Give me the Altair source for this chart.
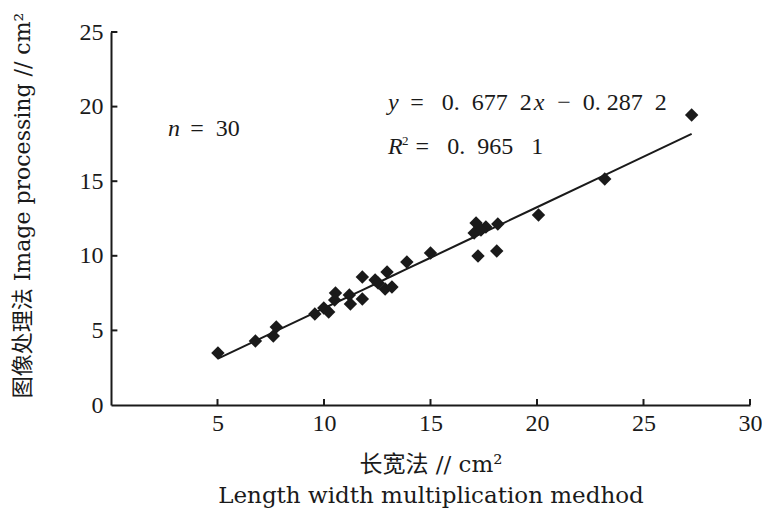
import altair as alt
import pandas as pd

# measured data (length-width method vs image processing), cm^2
length_width = [5.02, 6.78, 7.62, 7.76, 9.57, 9.99, 10.22, 10.54, 10.50, 11.19,
                11.24, 11.80, 11.80, 12.40, 12.54, 12.96, 12.87, 13.19, 13.89, 15.00,
                17.14, 17.60, 17.05, 17.37, 18.16, 17.23, 18.11, 20.07, 23.18, 27.26]
image_proc = [3.49, 4.29, 4.62, 5.23, 6.10, 6.50, 6.23, 7.51, 7.04, 7.37,
              6.77, 7.10, 8.58, 8.38, 8.18, 8.91, 7.77, 7.91, 9.58, 10.19,
              12.20, 11.93, 11.53, 11.73, 12.13, 9.99, 10.32, 12.73, 15.15, 19.44]

slope = 0.6772
intercept = -0.2872

x_ticks = [5, 10, 15, 20, 25, 30]
y_ticks = [0, 5, 10, 15, 20, 25]

NB = "\u00a0"
SERIF = "'Liberation Serif', 'Noto Sans CJK SC', serif"
TSERIF = "'DejaVu Serif', 'Noto Sans CJK SC', serif"

df = pd.DataFrame({"x": length_width, "y": image_proc})

x_scale = alt.Scale(domain=[0, 30], nice=False, zero=True)
y_scale = alt.Scale(domain=[0, 25], nice=False, zero=True)

W, H = 639, 373

x_axis = alt.Axis(
    values=x_ticks, ticks=False, grid=False, domainColor="#1a1a1a", domainWidth=2,
    labelFont=SERIF, labelFontSize=24, labelColor="#1a1a1a", labelPadding=6,
    labelFlush=False,
    title=["长宽法 // cm²", "Length width multiplication medhod"],
    titleFont=TSERIF, titleFontSize=23, titleFontWeight="normal", titleColor="#1a1a1a",
    titleLineHeight=31, titlePadding=18,
)
y_axis = alt.Axis(
    values=y_ticks, ticks=False, grid=False, domainColor="#1a1a1a", domainWidth=2,
    labelFont=SERIF, labelFontSize=24, labelColor="#1a1a1a", labelPadding=8,
    labelFlush=False,
    title="图像处理法 Image processing // cm²",
    titleFont=TSERIF, titleFontSize=22, titleFontWeight="normal", titleColor="#1a1a1a",
    titleX=-89, titleY=173, titleAngle=-90, titleBaseline="middle", titleAlign="center",
)

base = alt.Chart(df)

points = base.mark_point(shape="diamond", filled=True, size=180, color="#1a1a1a", opacity=1).encode(
    x=alt.X("x:Q", scale=x_scale, axis=x_axis),
    y=alt.Y("y:Q", scale=y_scale, axis=y_axis),
)

fit = base.transform_calculate(
    fit=f"{slope} * datum.x + ({intercept})"
).mark_line(color="#1a1a1a", strokeWidth=2).encode(
    x=alt.X("x:Q", scale=x_scale),
    y=alt.Y("fit:Q", scale=y_scale),
    order="x:Q",
)

# inward tick marks
xt = pd.DataFrame({"v": x_ticks})
yt = pd.DataFrame({"v": y_ticks[1:]})
x_tick_marks = alt.Chart(xt).transform_calculate(y0="0", y1="0.4").mark_rule(
    color="#1a1a1a", strokeWidth=2
).encode(
    x=alt.X("v:Q", scale=x_scale),
    y=alt.Y("y0:Q", scale=y_scale),
    y2="y1:Q",
)
y_tick_marks = alt.Chart(yt).transform_calculate(x0="0", x1="0.3").mark_rule(
    color="#1a1a1a", strokeWidth=2
).encode(
    y=alt.Y("v:Q", scale=y_scale),
    x=alt.X("x0:Q", scale=x_scale),
    x2="x1:Q",
)

# annotations (positions in data units)
ann_italic = pd.DataFrame({
    "t": ["n", "y", "x", "R"],
    "x": [2.68, 13.0, 19.85, 13.0],
    "y": [18.0, 19.75, 19.75, 16.85],
})
ann_normal = pd.DataFrame({
    "t": [f"={NB}{NB}30",
          f"={NB}{NB}{NB}0.{NB}{NB}677{NB}{NB}2",
          f"−{NB}{NB}0.{NB}287{NB}{NB}2",
          f"={NB}{NB}{NB}0.{NB}{NB}965{NB}{NB}{NB}1"],
    "x": [3.72, 14.05, 20.95, 14.3],
    "y": [18.0, 19.75, 19.75, 16.85],
})
ann_sup = pd.DataFrame({"t": ["2"], "x": [13.66], "y": [17.45]})

t_italic = alt.Chart(ann_italic).mark_text(
    font="'Liberation Serif', serif", fontSize=24, fontStyle="italic", align="left",
    baseline="alphabetic", color="#1a1a1a"
).encode(x=alt.X("x:Q", scale=x_scale), y=alt.Y("y:Q", scale=y_scale), text="t:N")
t_normal = alt.Chart(ann_normal).mark_text(
    font="'Liberation Serif', serif", fontSize=24, align="left",
    baseline="alphabetic", color="#1a1a1a"
).encode(x=alt.X("x:Q", scale=x_scale), y=alt.Y("y:Q", scale=y_scale), text="t:N")
t_sup = alt.Chart(ann_sup).mark_text(
    font="'Liberation Serif', serif", fontSize=13, align="left",
    baseline="alphabetic", color="#1a1a1a"
).encode(x=alt.X("x:Q", scale=x_scale), y=alt.Y("y:Q", scale=y_scale), text="t:N")

chart = alt.layer(
    fit, points, x_tick_marks, y_tick_marks, t_italic, t_normal, t_sup
).properties(
    width=W, height=H,
    autosize=alt.AutoSizeParams(type="none"),
    padding={"left": 103, "top": 24, "right": 12, "bottom": 104},
    background="white",
).configure_view(stroke=None)

chart.save("out.html", embed_options={"renderer": "svg", "actions": False})
